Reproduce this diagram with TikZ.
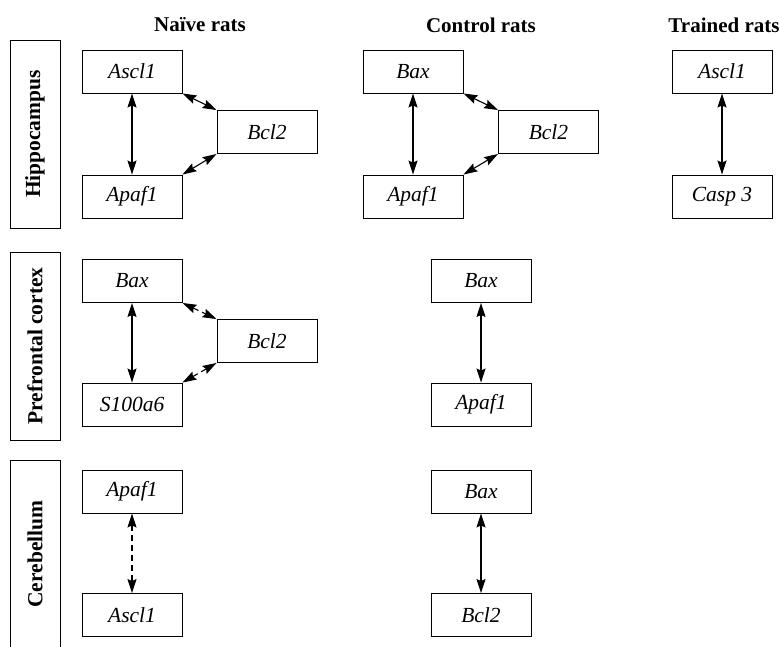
\documentclass[tikz,border=0pt]{standalone}
\usepackage{fontspec}
\setmainfont{Liberation Serif}
\usetikzlibrary{arrows.meta}

\begin{document}
\begin{tikzpicture}[x=1pt, y=-1pt, font=\fontsize{21.5}{25}\selectfont,
    gene/.style={draw, line width=0.9pt, minimum width=100pt, minimum height=43pt, inner sep=0pt, font=\fontsize{21.5}{25}\selectfont\itshape},
    region/.style={draw, line width=0.9pt, minimum width=188pt, minimum height=50pt, inner sep=0pt, rotate=90, font=\fontsize{21.5}{25}\selectfont\bfseries},
    colhead/.style={font=\fontsize{21}{25}\selectfont\bfseries},
    link/.style={line width=1.1pt, {Stealth[length=14pt,width=9pt,inset=2pt]}-{Stealth[length=14pt,width=9pt,inset=2pt]}},
    weak/.style={dash pattern=on 6pt off 4pt}]
  \useasboundingbox (0,0) rectangle (779,646);
  \clip (0,0) rectangle (779,646);
  % column heads
  \node[colhead] (hnaive) at (200,25) {Naïve rats};
  \node[colhead] (hcontrol) at (481,25) {Control rats};
  \node[colhead] (htrained) at (724,25) {Trained rats};
  % row labels
  \node[region] (rhip) at (35,134) {Hippocampus};
  \node[region] (rpfc) at (35,346) {Prefrontal cortex};
  \node[region] (rcer) at (35,554) {Cerebellum};
  % hippocampus
  \node[gene] (hnA) at (132,71.5) {Ascl1};
  \node[gene] (hnB) at (267,132) {Bcl2};
  \node[gene] (hnC) at (132,196.5) {Apaf1};
  \node[gene] (hcA) at (413,71.5) {Bax};
  \node[gene] (hcB) at (548.5,132) {Bcl2};
  \node[gene] (hcC) at (413,196.5) {Apaf1};
  \node[gene] (htA) at (722,71.5) {Ascl1};
  \node[gene] (htC) at (722,196.5) {Casp 3};
  % prefrontal cortex
  \node[gene] (pnA) at (132,281) {Bax};
  \node[gene] (pnB) at (267,341) {Bcl2};
  \node[gene] (pnC) at (132,404.5) {S100a6};
  \node[gene] (pcA) at (481,281) {Bax};
  \node[gene] (pcC) at (481,404.5) {Apaf1};
  % cerebellum
  \node[gene] (cnA) at (132,491.5) {Apaf1};
  \node[gene] (cnC) at (132,615) {Ascl1};
  \node[gene] (ccA) at (481,491.5) {Bax};
  \node[gene] (ccC) at (481,615) {Bcl2};
  % links
  \foreach \a/\b in {hnA/hnC,hcA/hcC,htA/htC,pnA/pnC,pcA/pcC,ccA/ccC}
    \draw[link] (\a.south) -- (\b.north);
  \foreach \a/\b/\c in {hnA/hnB/hnC,hcA/hcB/hcC}{
    \draw[link] (\a.south east) -- (\b.north west);
    \draw[link] (\b.south west) -- (\c.north east);
  }
  \draw[link, weak] (pnA.south east) -- (pnB.north west);
  \draw[link, weak] (pnB.south west) -- (pnC.north east);
  \draw[link, weak] (cnA.south) -- (cnC.north);
\end{tikzpicture}
\end{document}
